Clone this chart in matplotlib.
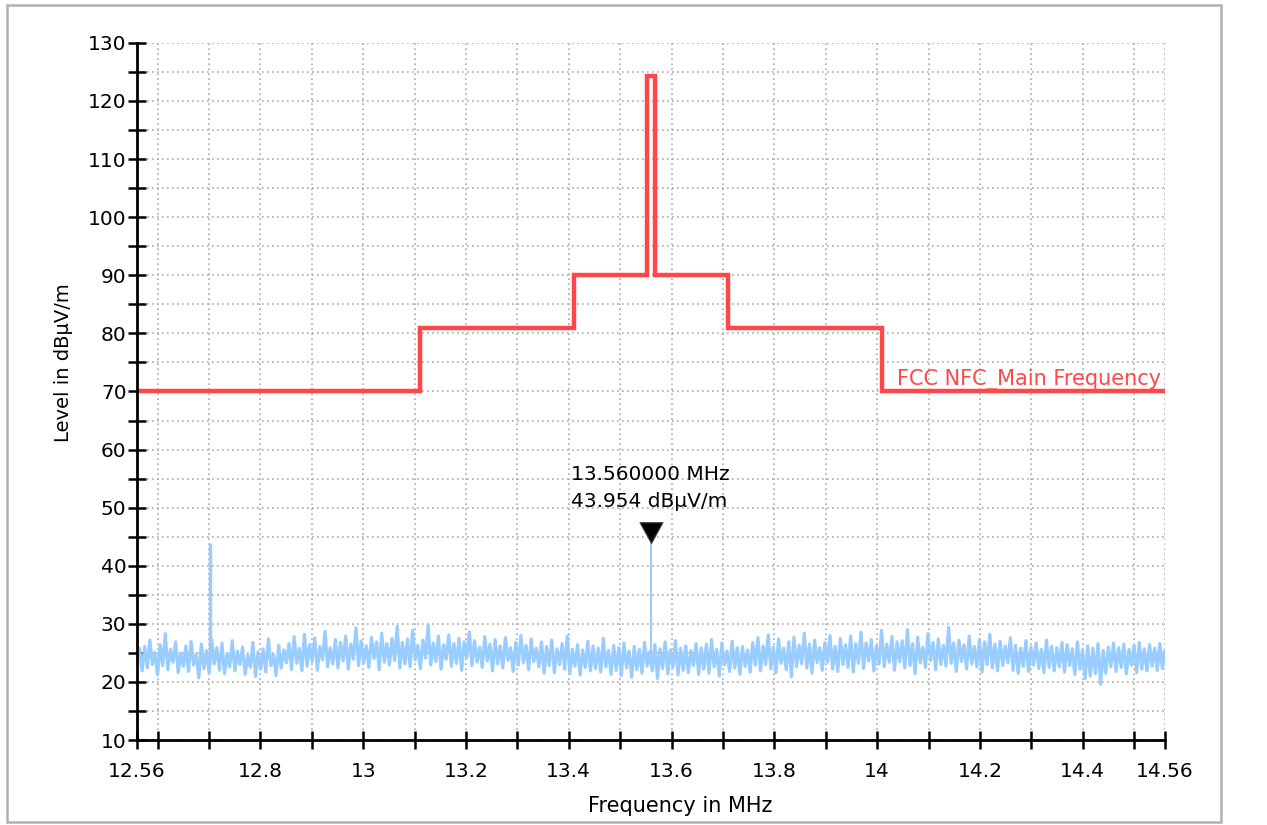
import numpy as np
import matplotlib
matplotlib.use("Agg")
import matplotlib.pyplot as plt
from matplotlib.patches import Rectangle

# FCC NFC limit line (step edges in MHz, levels in dBuV/m)
limit_edges = [12.56, 13.11, 13.41, 13.553, 13.567, 13.71, 14.01, 14.56]
limit_levels = [70, 81, 90, 124.3, 90, 81, 70]
limit_name = "FCC NFC_Main Frequency"

noise = [
    23.5, 25.8, 21.9, 26.1, 22.4, 27.2, 23.0, 25.1, 21.2, 26.4, 22.8, 28.3, 22.1, 25.6, 23.4, 26.9, 21.6, 25.0, 22.7, 26.2,
    21.8, 27.0, 22.9, 24.8, 20.7, 26.5, 22.3, 25.4, 21.5, 27.3, 23.1, 25.9, 22.0, 26.7, 21.4, 24.9, 22.6, 27.1, 21.9, 25.3,
    23.0, 26.0, 21.3, 24.6, 22.5, 26.8, 20.9, 25.2, 22.2, 25.7, 21.7, 27.4, 22.8, 24.7, 21.1, 26.3, 22.4, 25.5, 23.3, 26.6,
    22.1, 27.8, 23.2, 25.8, 21.9, 28.2, 22.7, 26.4, 23.5, 27.6, 22.0, 26.1, 23.8, 28.7, 22.6, 25.9, 23.1, 27.3, 22.4, 26.8,
    23.6, 27.9, 22.2, 26.5, 23.9, 29.3, 22.8, 27.0, 23.3, 26.2, 22.5, 27.7, 24.0, 26.9, 22.1, 28.4, 23.4, 26.6, 22.9, 27.5,
    23.7, 29.6, 22.4, 26.8, 23.1, 27.4, 22.6, 28.9, 23.8, 26.3, 22.3, 27.2, 24.1, 29.8, 22.9, 26.7, 23.5, 27.9, 22.2, 26.4,
    23.9, 28.1, 22.7, 26.6, 23.2, 27.5, 22.0, 26.9, 24.2, 28.6, 22.8, 27.1, 23.4, 26.0, 22.5, 27.8, 23.6, 26.5, 21.9, 27.3,
    23.1, 26.2, 22.4, 27.6, 23.7, 25.9, 21.8, 26.8, 22.9, 28.0, 23.3, 26.3, 22.1, 27.4, 23.5, 25.8, 22.6, 26.9, 21.5, 26.1,
    22.8, 27.2, 21.6, 25.7, 23.0, 26.6, 22.2, 27.9, 21.4, 25.6, 22.7, 26.4, 21.2, 25.5, 22.5, 27.0, 21.9, 26.2, 22.3, 25.8,
    21.7, 27.5, 22.6, 25.4, 21.3, 26.3, 22.0, 25.9, 21.1, 26.7, 22.4, 25.3, 20.8, 26.1, 22.1, 25.6, 21.5, 26.8, 22.7, 25.2,
    21.9, 26.4, 20.6, 25.7, 22.3, 26.9, 21.4, 25.5, 22.5, 27.1, 21.2, 25.8, 22.0, 26.2, 21.6, 25.4, 22.8, 26.6, 21.3, 25.9,
    22.2, 26.5, 21.5, 27.3, 22.6, 25.6, 21.0, 26.7, 22.9, 25.3, 21.8, 27.0, 22.4, 25.9, 21.3, 26.1, 22.7, 25.5, 21.7, 26.8,
    22.9, 27.6, 21.9, 26.2, 23.0, 28.1, 22.3, 26.0, 21.6, 27.4, 23.2, 25.8, 22.1, 26.9, 20.9, 27.7, 22.6, 26.3, 23.1, 28.4,
    22.4, 26.5, 21.5, 27.2, 23.3, 25.9, 22.0, 26.8, 23.4, 28.0, 22.2, 26.1, 21.8, 27.5, 23.0, 26.4, 22.5, 27.9, 21.7, 26.6,
    23.2, 28.6, 22.3, 26.7, 23.6, 27.3, 21.9, 26.2, 23.1, 28.9, 22.6, 26.5, 23.4, 27.8, 22.0, 26.9, 23.5, 27.1, 22.4, 29.0,
    22.8, 26.6, 21.4, 27.7, 23.3, 26.0, 22.5, 28.3, 23.7, 26.8, 22.1, 27.4, 23.0, 26.3, 22.7, 29.4, 23.2, 26.7, 21.8, 27.2,
    23.5, 26.4, 22.2, 27.9, 23.1, 26.1, 22.6, 27.3, 21.7, 26.9, 23.0, 28.2, 22.4, 26.5, 21.9, 27.0, 22.8, 26.2, 23.3, 27.6,
    22.0, 26.3, 21.5, 25.8, 22.7, 27.1, 21.8, 26.0, 22.9, 26.7, 22.3, 25.6, 21.6, 27.2, 22.5, 26.1, 21.9, 25.9, 22.6, 26.8,
    21.7, 26.4, 22.8, 25.7, 21.3, 26.9, 22.2, 25.5, 20.6, 26.2, 21.0, 25.8, 21.4, 26.6, 19.6, 25.4, 21.5, 26.0, 22.6, 26.7,
    21.8, 25.9, 22.5, 26.5, 21.4, 25.6, 22.9, 26.3, 21.6, 26.8, 22.2, 25.7, 21.9, 26.4, 22.7, 25.8, 22.0, 26.6, 22.3, 25.5,
]
freq = np.linspace(12.56, 14.56, len(noise))

# narrow carriers sticking out of the noise
spike_freqs = [12.702, 13.56]
spike_levels = [44.0, 43.954]
spike_widths = [2.5, 1.5]

# marker readout
marker_freq = 13.56
marker_level = 43.954

x_ticks = [12.56] + [round(12.6 + 0.1 * i, 1) for i in range(20)] + [14.56]
x_labels = {12.56: "12.56", 12.8: "12.8", 13.0: "13", 13.2: "13.2", 13.4: "13.4",
            13.6: "13.6", 13.8: "13.8", 14.0: "14", 14.2: "14.2", 14.4: "14.4", 14.56: "14.56"}
y_ticks = list(range(10, 131, 5))

red = "#FF4747"
blue = "#99CCFF"

fig = plt.figure(figsize=(12.67, 8.25), dpi=100)
ax = fig.add_axes([0.1081, 0.103, 0.8114, 0.845])

# spectrum
ax.plot(freq, noise, color=blue, lw=2.3, zorder=3)
for f, lev, w in zip(spike_freqs, spike_levels, spike_widths):
    base = np.interp(f, freq, noise)
    ax.vlines(f, base, lev, color=blue, lw=w, zorder=3)

# limit line
st = ax.stairs(limit_levels, limit_edges, baseline=None, color=red, lw=3.2, zorder=4)
st.set_joinstyle("miter")
ax.text(14.039, 71.1, limit_name, color=red, fontsize=15, ha="left",
        va="baseline", clip_on=False)

# marker triangle with tip on the measured level
tri = [(0, 0), (-0.55, 1), (0.55, 1), (0, 0)]
ax.plot([marker_freq], [marker_level], marker=tri, markersize=30, color="black",
        markeredgecolor="#444444", markeredgewidth=0.8, zorder=6, clip_on=False)
ax.text(13.405, 54.8, "%.6f MHz" % marker_freq, fontsize=14.5, ha="left", va="baseline")
ax.text(13.405, 50.1, "%.3f dBµV/m" % marker_level, fontsize=14.5, ha="left", va="baseline")

ax.set_xlim(12.56, 14.56)
ax.set_ylim(10, 130)
ax.set_xticks(x_ticks)
ax.set_xticklabels([x_labels.get(round(t, 2), "") for t in x_ticks])
ax.set_yticks(y_ticks)
ax.set_yticklabels([str(t) if t % 10 == 0 else "" for t in y_ticks])
ax.tick_params(axis="both", direction="inout", length=13, width=1.8, labelsize=14.5,
               color="black")
ax.tick_params(axis="x", pad=9)
ax.tick_params(axis="y", pad=1)

ax.grid(True, color="#AAAAAA", linestyle=(0, (1, 2)), linewidth=1.2)
ax.set_axisbelow(True)

for side in ["top", "right"]:
    ax.spines[side].set_visible(False)
for side in ["left", "bottom"]:
    ax.spines[side].set_linewidth(2)
    ax.spines[side].set_zorder(5)

ax.set_xlabel("Frequency in MHz", fontsize=15)
ax.set_ylabel("Level in dBµV/m", fontsize=14)
ax.xaxis.set_label_coords(0.528, -0.081)
ax.yaxis.set_label_coords(-0.062, 0.542)

# grey frame round the plot
fig.patches.append(Rectangle((0.0055, 0.0036), 0.958, 0.990, transform=fig.transFigure,
                             fill=False, edgecolor="#B0B0B0", lw=1.8))

fig.savefig("out.png", dpi=100)
